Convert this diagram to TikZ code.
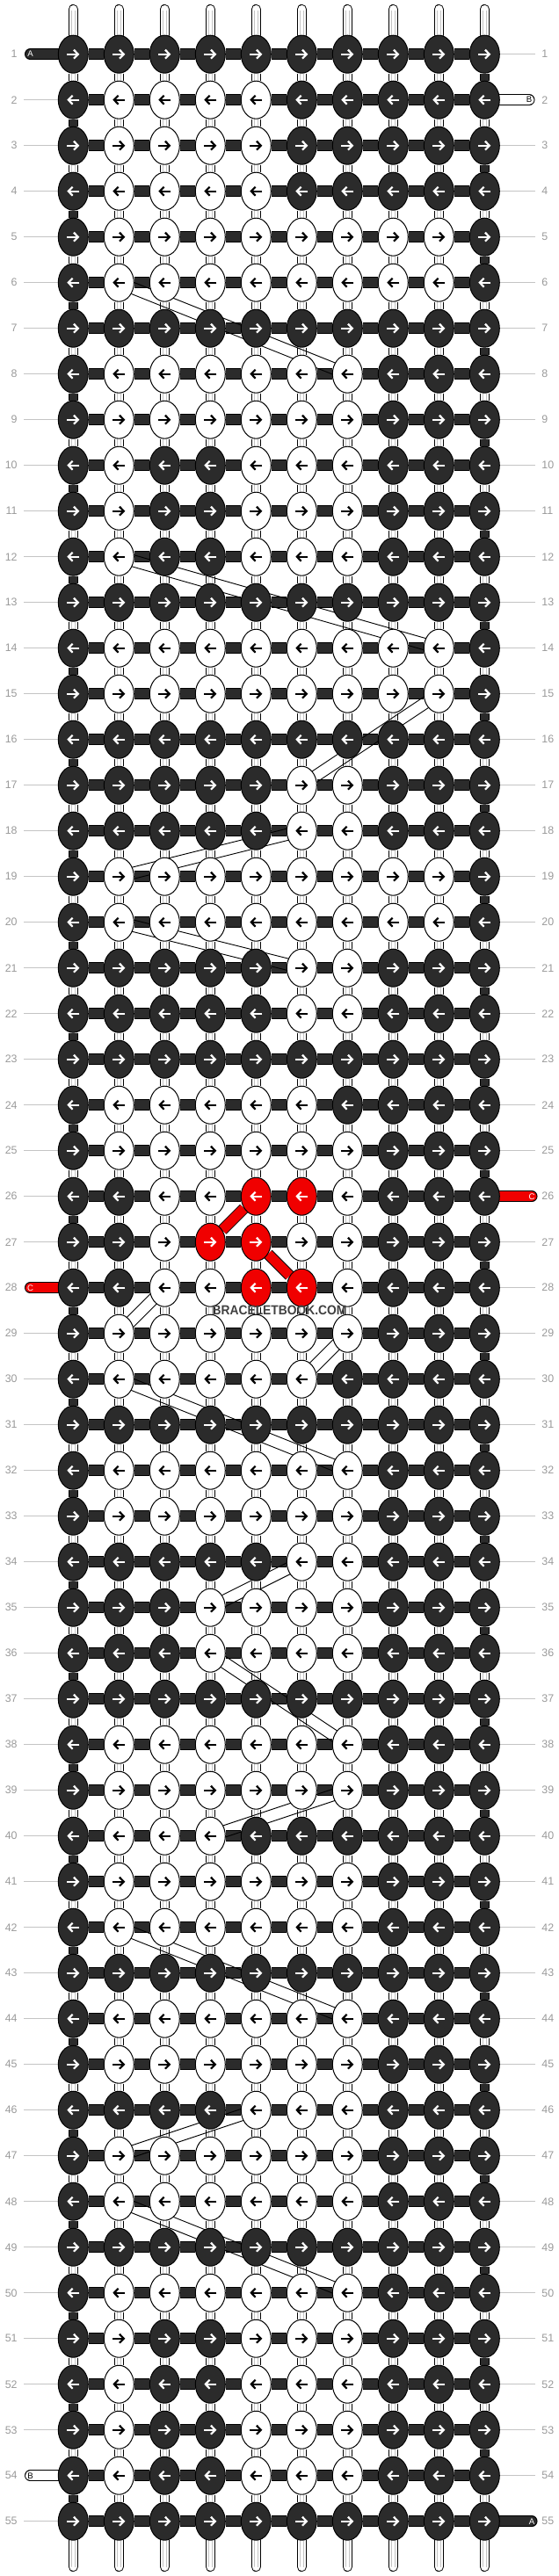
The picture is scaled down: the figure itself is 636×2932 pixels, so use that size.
\documentclass[tikz,border=0pt]{standalone}
\usepackage{fontspec}
\setmainfont{Liberation Sans}
\usetikzlibrary{calc,arrows.meta,shapes.geometric}

\definecolor{knotdark}{HTML}{2B2B2B}
\definecolor{knotred}{HTML}{F00000}
\definecolor{tickgray}{HTML}{C4C4C4}
\definecolor{numgray}{HTML}{9A9A9A}

\pgfdeclarelayer{threads}
\pgfsetlayers{threads,main}

\tikzset{
	knot/.style={ellipse, draw=black, line width=0.5pt, minimum width=17pt, minimum height=21.5pt, inner sep=0pt},
	knot d/.style={knot, fill=knotdark},
	knot w/.style={knot, fill=white},
	knot r/.style={knot, fill=knotred},
	tip/.style={line width=1.1pt, -{Straight Barb[length=2.4pt, width=5pt]}},
	tip d/.style={white},
	tip w/.style={black},
	tip r/.style={white},
	bar/.style={draw=black, line width=0.5pt, double=knotdark, double distance=5.5pt},
	redbar/.style={bar, double=knotred},
	whitebar/.style={bar, double=white},
	string/.style={draw=black, line width=0.5pt, double=white, double distance=4.6pt},
	darkstring/.style={string, double=knotdark},
	fibre/.style={draw=tickgray, line width=0.35pt},
	moved/.style={draw=black, line width=0.45pt},
	tick/.style={draw=tickgray, line width=0.5pt},
	rownum/.style={text=numgray, inner sep=3.5pt, font=\fontsize{6.2pt}{7pt}\selectfont},
	stubtext/.style={inner sep=0pt, font=\fontsize{4.8pt}{5pt}\selectfont},
	wmtext/.style={text=black!75, xscale=0.92, inner sep=0pt, font=\bfseries\fontsize{7.5pt}{8pt}\selectfont},
}

\begin{document}
\begin{tikzpicture}[x=0.5pt, y=-0.5pt]

% parameters %{{{2

	\def\xo{83.3}
	\def\yo{61.7}
	\def\dx{52}
	\def\dy{52}

	\useasboundingbox (0,0) rectangle (636,2932);

% knots %{{{2

	\foreach \r/\row in {
		1/{d,d,d,d,d,d,d,d,d,d}, 2/{d,w,w,w,w,d,d,d,d,d}, 3/{d,w,w,w,w,d,d,d,d,d},
		4/{d,w,w,w,w,d,d,d,d,d}, 5/{d,w,w,w,w,w,w,w,w,d}, 6/{d,w,w,w,w,w,w,w,w,d},
		7/{d,d,d,d,d,d,d,d,d,d}, 8/{d,w,w,w,w,w,w,d,d,d}, 9/{d,w,w,w,w,w,w,d,d,d},
		10/{d,w,d,d,w,w,w,d,d,d}, 11/{d,w,d,d,w,w,w,d,d,d}, 12/{d,w,d,d,w,w,w,d,d,d},
		13/{d,d,d,d,d,d,d,d,d,d}, 14/{d,w,w,w,w,w,w,w,w,d}, 15/{d,w,w,w,w,w,w,w,w,d},
		16/{d,d,d,d,d,d,d,d,d,d}, 17/{d,d,d,d,d,w,w,d,d,d}, 18/{d,d,d,d,d,w,w,d,d,d},
		19/{d,w,w,w,w,w,w,w,w,d}, 20/{d,w,w,w,w,w,w,w,w,d}, 21/{d,d,d,d,d,w,w,d,d,d},
		22/{d,d,d,d,d,w,w,d,d,d}, 23/{d,d,d,d,d,d,d,d,d,d}, 24/{d,w,w,w,w,w,d,d,d,d},
		25/{d,w,w,w,w,w,w,d,d,d}, 26/{d,d,w,w,r,r,w,d,d,d}, 27/{d,d,w,r,r,w,w,d,d,d},
		28/{d,d,w,w,r,r,w,d,d,d}, 29/{d,w,w,w,w,w,w,d,d,d}, 30/{d,w,w,w,w,w,d,d,d,d},
		31/{d,d,d,d,d,d,d,d,d,d}, 32/{d,w,w,w,w,w,w,d,d,d}, 33/{d,w,w,w,w,w,w,d,d,d},
		34/{d,d,d,d,d,w,w,d,d,d}, 35/{d,d,d,w,w,w,w,d,d,d}, 36/{d,d,d,w,w,w,w,d,d,d},
		37/{d,d,d,d,d,d,d,d,d,d}, 38/{d,w,w,w,w,w,w,d,d,d}, 39/{d,w,w,w,w,w,w,d,d,d},
		40/{d,w,w,w,d,d,d,d,d,d}, 41/{d,w,w,w,w,w,w,d,d,d}, 42/{d,w,w,w,w,w,w,d,d,d},
		43/{d,d,d,d,d,d,d,d,d,d}, 44/{d,w,w,w,w,w,w,d,d,d}, 45/{d,w,w,w,w,w,w,d,d,d},
		46/{d,d,d,d,w,w,w,d,d,d}, 47/{d,w,w,w,w,w,w,d,d,d}, 48/{d,w,w,w,w,w,w,d,d,d},
		49/{d,d,d,d,d,d,d,d,d,d}, 50/{d,w,w,w,w,w,w,d,d,d}, 51/{d,w,d,d,w,w,w,d,d,d},
		52/{d,w,d,d,w,w,w,d,d,d}, 53/{d,w,d,d,w,w,w,d,d,d}, 54/{d,w,d,d,w,w,w,d,d,d},
		55/{d,d,d,d,d,d,d,d,d,d}} {
		\pgfmathsetmacro{\dir}{mod(\r,2)==1 ? 1 : -1}
		\foreach \k [count=\c] in \row {
			\node[knot \k] (k-\r-\c) at ({\xo+\dx*(\c-1)}, {\yo+\dy*(\r-1)}) {};
			\draw[tip, tip \k] (k-\r-\c.center) ++({-7*\dir},0) -- ++({14*\dir},0);
		}
	}

% row numbers %{{{2

	\foreach \r in {1,...,55} {
		\node[rownum, anchor=east] (num-l-\r) at (27, {\yo+\dy*(\r-1)}) {\r};
		\node[rownum, anchor=west] (num-r-\r) at (609, {\yo+\dy*(\r-1)}) {\r};
	}

% free ends %{{{2

	\foreach \c in {1,...,10} {
		\coordinate (top-\c) at ({\xo+\dx*(\c-1)}, 10.5);
		\coordinate (bot-\c) at ({\xo+\dx*(\c-1)}, 2921.5);
	}
	\coordinate (end-a1) at (34.5, {\yo});
	\coordinate (end-b2) at (602, {\yo+\dy});
	\coordinate (end-c26) at (605, {\yo+\dy*25});
	\coordinate (end-c28) at (34.5, {\yo+\dy*27});
	\coordinate (end-b54) at (34.5, {\yo+\dy*53});
	\coordinate (end-a55) at (605, {\yo+\dy*54});

% threads %{{{2

	\begin{pgfonlayer}{threads}

		% vertical strings
		\foreach \c in {1,...,10} {
			\draw[string, line cap=round] (top-\c) -- (k-1-\c);
			\draw[fibre] ([xshift=-0.85pt]top-\c) ++(0,2) -- ([xshift=-0.85pt]k-1-\c.center);
			\draw[fibre] ([xshift=0.85pt]top-\c) ++(0,2) -- ([xshift=0.85pt]k-1-\c.center);
			\draw[string, line cap=round] (k-55-\c) -- (bot-\c);
			\draw[fibre] ([xshift=-0.85pt]k-55-\c.center) -- ([xshift=-0.85pt]bot-\c) -- ++(0,-2);
			\draw[fibre] ([xshift=0.85pt]k-55-\c.center) -- ([xshift=0.85pt]bot-\c);
		}
		\foreach \r [evaluate=\r as \s using int(\r+1)] in {1,...,54} {
			\foreach \c in {1,...,10} {
				\pgfmathtruncatemacro{\dk}{(\c==1 && mod(\r,2)==0) || (\c==10 && mod(\r,2)==1)}
				\ifnum\dk=1
					\draw[darkstring] (k-\r-\c) -- (k-\s-\c);
				\else
					\draw[string] (k-\r-\c) -- (k-\s-\c);
					\draw[fibre] ([xshift=-0.85pt]k-\r-\c.center) -- ([xshift=-0.85pt]k-\s-\c.center);
					\draw[fibre] ([xshift=0.85pt]k-\r-\c.center) -- ([xshift=0.85pt]k-\s-\c.center);
				\fi
			}
		}

		% horizontal bars
		\foreach \r in {1,...,55} {
			\foreach \c [evaluate=\c as \n using int(\c+1)] in {1,...,9} {
				\draw[bar] (k-\r-\c) -- (k-\r-\n);
			}
		}

		% end stubs
		\draw[bar, line cap=round] (k-1-1) -- (end-a1);
		\draw[whitebar, line cap=round] (k-2-10) -- (end-b2);
		\draw[redbar, line cap=round] (k-26-10) -- (end-c26);
		\draw[redbar, line cap=round] (k-28-1) -- (end-c28);
		\draw[whitebar, line cap=round] (k-54-1) -- (end-b54);
		\draw[bar, line cap=round] (k-55-10) -- (end-a55);

		% red diagonals
		\draw[redbar] (k-27-4) -- (k-26-5);
		\draw[redbar] (k-27-5) -- (k-28-6);

		% moved strings
		\foreach \a/\b in {k-6-2/k-8-7, k-12-2/k-14-9, k-15-9/k-17-6, k-19-2/k-18-6,
			k-20-2/k-21-6, k-29-2/k-28-3, k-30-6/k-29-7, k-30-2/k-32-7,
			k-35-4/k-34-6, k-36-4/k-38-7, k-40-4/k-39-7, k-42-2/k-44-7,
			k-47-2/k-46-5, k-48-2/k-50-7} {
			\draw[moved] ($(\a)!3.3pt!90:(\b)$) -- ($(\b)!3.3pt!-90:(\a)$);
			\draw[moved] ($(\a)!3.3pt!-90:(\b)$) -- ($(\b)!3.3pt!90:(\a)$);
		}

		% row ticks
		\foreach \r in {2,3,...,27,29,30,...,53,55} {
			\draw[tick] (k-\r-1) -- (num-l-\r);
		}
		\foreach \r in {1,3,4,...,25,27,28,...,54} {
			\draw[tick] (k-\r-10) -- (num-r-\r);
		}

	\end{pgfonlayer}

% end labels %{{{2

	\node[stubtext, text=white] at (end-a1) {A};
	\node[stubtext] at (end-b2) {B};
	\node[stubtext, text=white] at (end-c26) {C};
	\node[stubtext, text=white] at (end-c28) {C};
	\node[stubtext] at (end-b54) {B};
	\node[stubtext, text=white] at (end-a55) {A};

% watermark %{{{2

	\node[wmtext] (watermark) at (318,1491) {BRACELETBOOK.COM};

% closing %{{{2

\end{tikzpicture}
\end{document}
